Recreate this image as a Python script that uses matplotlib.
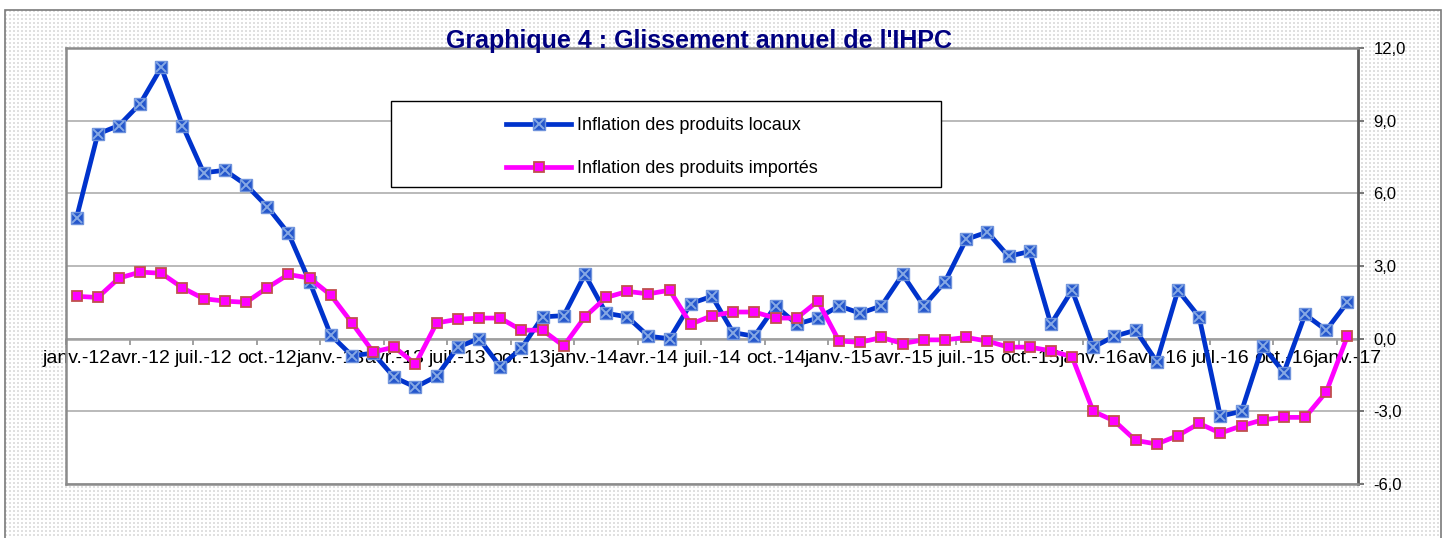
import numpy as np
import matplotlib
matplotlib.use("Agg")
import matplotlib.pyplot as plt
from matplotlib.patches import Rectangle
from matplotlib.legend_handler import HandlerTuple
from matplotlib.ticker import FuncFormatter

plt.rcParams['font.family'] = ['Liberation Sans', 'DejaVu Sans']

# Données (glissement annuel, %)
mois_noms = ["janv.", "févr.", "mars", "avr.", "mai", "juin",
             "juil.", "août", "sept.", "oct.", "nov.", "déc."]
annees = ["12", "13", "14", "15", "16", "17"]

locaux = [5.0, 8.45, 8.8, 9.7, 11.2, 8.8, 6.85, 6.95, 6.35, 5.45, 4.35,
          2.35, 0.15, -0.7, -0.6, -1.6, -2.0, -1.55, -0.35, 0.0, -1.15, -0.4,
          0.9, 0.95, 2.65, 1.05, 0.9, 0.1, 0.0, 1.45, 1.75, 0.25, 0.1,
          1.35, 0.6, 0.85, 1.35, 1.05, 1.35, 2.65, 1.35, 2.35, 4.1, 4.4,
          3.4, 3.6, 0.6, 2.0, -0.35, 0.1, 0.35, -0.95, 2.0, 0.9, -3.2,
          -3.0, -0.3, -1.4, 1.0, 0.35, 1.5]
importes = [1.75, 1.7, 2.5, 2.75, 2.7, 2.1, 1.65, 1.55, 1.5, 2.1, 2.65,
            2.5, 1.8, 0.65, -0.55, -0.35, -1.05, 0.65, 0.8, 0.85, 0.85, 0.35,
            0.35, -0.3, 0.9, 1.7, 1.95, 1.85, 2.0, 0.6, 0.95, 1.1, 1.1,
            0.85, 0.85, 1.55, -0.1, -0.15, 0.05, -0.2, -0.05, -0.05, 0.05, -0.1,
            -0.35, -0.35, -0.5, -0.75, -3.0, -3.4, -4.2, -4.35, -4.0, -3.5, -3.9,
            -3.6, -3.35, -3.25, -3.25, -2.2, 0.1]

categories = [m + "-" + a for a in annees for m in mois_noms][:len(locaux)]

W, H = 1450, 538
fig = plt.figure(figsize=(W / 100, H / 100), dpi=100)
fig.patch.set_facecolor("white")

# fond tramé de la zone de graphique
bg_h, bg_w = H - 10, 1436
yy, xx = np.mgrid[0:bg_h, 0:bg_w]
trame = np.ones((bg_h, bg_w, 3))
dots = ((xx % 4) < 2) & ((yy % 4) < 2)
trame[dots] = 0.88
fig.figimage(trame, xo=5, yo=0, zorder=-1)
fig.add_artist(Rectangle((5 / W, -0.01), 1436 / W, (H - 10) / H + 0.01,
                         transform=fig.transFigure, fill=False,
                         edgecolor="#7a7a7a", lw=1.2))

ax = fig.add_axes([66 / W, 1 - 484 / H, (1358 - 66) / W, (484 - 48) / H])
ax.set_facecolor("white")

x = np.arange(len(locaux))
ymin, ymax = -6, 12
ax.set_xlim(-0.5, len(locaux) - 0.5)
ax.set_ylim(ymin, ymax)

style_loc = dict(color="#0033cc", lw=3.4, marker="s", ms=8,
                 mfc="#2456cc", mec="#6f93dc", mew=1.0)
style_loc_x = dict(ls="none", marker="x", ms=6.5, mew=1.4, color="#86a8e4")
style_imp = dict(color="#ff00ff", lw=3.4, marker="s", ms=6.8,
                 mfc="#ff00ff", mec="#c0504d", mew=1.3)

ax.plot(x, locaux, zorder=3, **style_loc)
ax.plot(x, locaux, zorder=4, **style_loc_x)
ax.plot(x, importes, zorder=5, **style_imp)

# axe des ordonnées à droite
ax.yaxis.tick_right()
ax.set_yticks(np.arange(ymin, ymax + 1, 3))
ax.yaxis.set_major_formatter(FuncFormatter(lambda v, p: f"{v:.1f}".replace(".", ",")))
ax.tick_params(axis="y", direction="out", length=4, width=1.2, color="#606060",
               labelsize=12, pad=7)
ax.set_xticks([])
ax.yaxis.grid(True, color="#b4b4b4", lw=1.3)
ax.set_axisbelow(True)
for s in ["top", "left", "bottom"]:
    ax.spines[s].set_color("#8c8c8c")
    ax.spines[s].set_linewidth(1.8)
ax.spines["right"].set_color("#5a5a5a")
ax.spines["right"].set_linewidth(2.0)

# axe des abscisses croisant en zéro
secax = ax.secondary_xaxis((0 - ymin) / (ymax - ymin))
secax.set_zorder(1)
secax.spines["bottom"].set_color("#a0a0a0")
secax.spines["bottom"].set_linewidth(1.8)
secax.set_xticks(np.arange(-0.5, len(locaux), 3))
secax.set_xticks(x[::3], labels=categories[::3], minor=True)
secax.tick_params(which="major", direction="out", length=4, width=1.2,
                  color="#909090", labelbottom=False)
secax.tick_params(which="minor", length=0, labelsize=14, pad=8)

# légende
bx, by, bw, bh = 0.2515, 0.6812, 0.4257, 0.1972
ax.add_patch(Rectangle((bx, by), bw, bh, transform=ax.transAxes,
                       facecolor="white", edgecolor="black", lw=1.0, zorder=6))
h1a, = ax.plot([], [], **style_loc)
h1b, = ax.plot([], [], **style_loc_x)
h2, = ax.plot([], [], **style_imp)
leg = ax.legend([(h1a, h1b), h2],
                ["Inflation des produits locaux", "Inflation des produits importés"],
                handler_map={tuple: HandlerTuple(ndivide=1, pad=0)},
                loc="center", bbox_to_anchor=(bx + bw / 2 - 0.003, by + bh / 2 - 0.007),
                frameon=False, fontsize=13, handlelength=3.6,
                handletextpad=0.3, labelspacing=1.45)
leg.set_zorder(7)

fig.text(699.5 / W, 1 - 41 / H, "Graphique 4 : Glissement annuel de l'IHPC",
         ha="center", va="center", fontsize=18, fontweight="bold",
         color="#000080")

fig.savefig("out.png", dpi=100)
